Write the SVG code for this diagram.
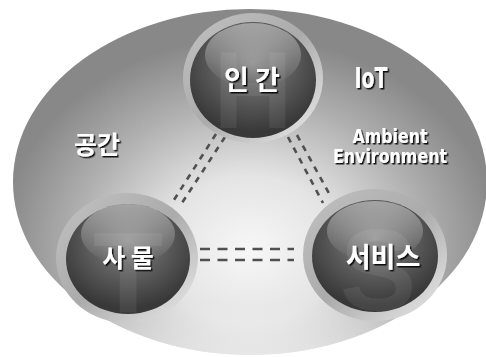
<svg xmlns="http://www.w3.org/2000/svg" width="486" height="357" viewBox="0 0 486 357">
<defs>
<radialGradient id="bg" cx="250" cy="250" r="250" gradientUnits="userSpaceOnUse" gradientTransform="translate(250 250) scale(1 0.85) translate(-250 -250)">
<stop offset="0" stop-color="#f7f7f7"/>
<stop offset="0.35" stop-color="#e4e4e4"/>
<stop offset="0.7" stop-color="#b0b0b0"/>
<stop offset="1" stop-color="#888888"/>
</radialGradient>
<linearGradient id="rim" x1="0" y1="0" x2="0" y2="1">
<stop offset="0" stop-color="#ffffff" stop-opacity="0"/>
<stop offset="0.85" stop-color="#ffffff" stop-opacity="0"/>
<stop offset="1" stop-color="#ffffff" stop-opacity="0.5"/>
</linearGradient>
<radialGradient id="sphere" cx="0.5" cy="0.35" r="0.6">
<stop offset="0" stop-color="#858585"/>
<stop offset="0.55" stop-color="#5a5a5a"/>
<stop offset="1" stop-color="#383838"/>
</radialGradient>
<linearGradient id="gloss" x1="0" y1="0" x2="0" y2="1">
<stop offset="0" stop-color="#ffffff" stop-opacity="0.45"/>
<stop offset="1" stop-color="#ffffff" stop-opacity="0"/>
</linearGradient>
<linearGradient id="ring" x1="0" y1="0" x2="1" y2="1">
<stop offset="0" stop-color="#c2c2c2"/>
<stop offset="0.5" stop-color="#ababab"/>
<stop offset="1" stop-color="#ededed"/>
</linearGradient>
<filter id="shadow" x="-20%" y="-20%" width="140%" height="140%">
<feDropShadow dx="1.5" dy="1.5" stdDeviation="0.6" flood-color="#000" flood-opacity="0.9"/>
</filter>
</defs>
<style>
.ring{fill:url(#ring)}
.sph{fill:url(#sphere)}
.gl{fill:url(#gloss)}
.ghost{font-family:"Liberation Sans",Arial,sans-serif;font-weight:bold;fill:#ffffff;fill-opacity:0.07;text-anchor:middle}
.lbl{font-family:"Noto Sans CJK KR","Liberation Sans",sans-serif;font-weight:bold;fill:#ffffff;text-anchor:middle;filter:url(#shadow)}
.en{font-family:"DejaVu Sans Condensed","Liberation Sans",sans-serif;font-weight:bold;fill:#ffffff;text-anchor:middle;filter:url(#shadow)}
.dash{stroke:#505050;stroke-width:2.6;fill:none}
</style>

<g id="space">
<ellipse cx="250" cy="182" rx="237" ry="173" fill="url(#bg)"/>
<ellipse cx="250" cy="182" rx="237" ry="173" fill="url(#rim)"/>
</g>

<g id="connectors">
<line class="dash" x1="216" y1="134" x2="172" y2="203" stroke-dasharray="6 6"/>
<line class="dash" x1="225" y1="137" x2="180" y2="206" stroke-dasharray="6 6"/>
<line class="dash" x1="288" y1="137" x2="323" y2="203" stroke-dasharray="6 6"/>
<line class="dash" x1="297" y1="135" x2="331" y2="197" stroke-dasharray="6 6"/>
<line class="dash" x1="200" y1="249" x2="294" y2="249" stroke-dasharray="10 7.5"/>
<line class="dash" x1="200" y1="260" x2="294" y2="260" stroke-dasharray="10 7.5"/>
</g>

<g id="node-human">
<ellipse class="ring" cx="253" cy="78" rx="70" ry="65"/>
<ellipse class="sph" cx="253" cy="80" rx="63" ry="58"/>
<ellipse class="gl" cx="253" cy="55" rx="48" ry="32"/>
<text class="ghost" x="253" y="128" font-size="110">H</text>
<text class="lbl" x="252" y="90" font-size="27">인 간</text>
</g>

<g id="node-thing">
<ellipse class="ring" cx="127" cy="258" rx="71" ry="65"/>
<ellipse class="sph" cx="128" cy="259" rx="62" ry="55"/>
<ellipse class="gl" cx="128" cy="234" rx="47" ry="30"/>
<text class="ghost" x="128" y="312" font-size="115">T</text>
<text class="lbl" x="128" y="267" font-size="25">사 물</text>
</g>

<g id="node-service">
<ellipse class="ring" cx="375" cy="255" rx="72" ry="66"/>
<ellipse class="sph" cx="375" cy="256" rx="63" ry="56"/>
<ellipse class="gl" cx="375" cy="231" rx="48" ry="30"/>
<text class="ghost" x="378" y="310" font-size="115">S</text>
<text class="lbl" x="383" y="267" font-size="27">서비스</text>
</g>

<g id="labels">
<text class="lbl" x="97" y="154" font-size="25">공간</text>
<text class="en" x="371" y="88" font-size="28" textLength="33" lengthAdjust="spacingAndGlyphs">IoT</text>
<text class="en" x="390" y="143" font-size="19" textLength="75" lengthAdjust="spacingAndGlyphs">Ambient</text>
<text class="en" x="390" y="163" font-size="19" textLength="114" lengthAdjust="spacingAndGlyphs">Environment</text>
</g>
</svg>
